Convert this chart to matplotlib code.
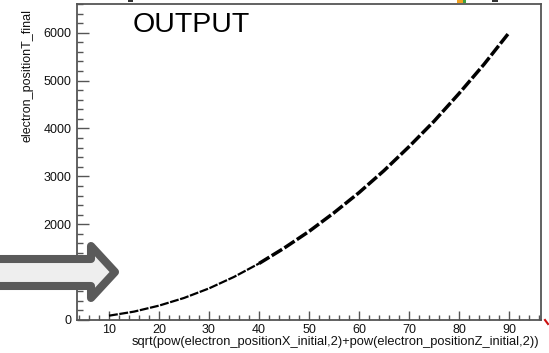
import matplotlib
matplotlib.use("Agg")
import matplotlib.pyplot as plt
from matplotlib.ticker import MultipleLocator
from matplotlib.patches import Polygon, Rectangle
from matplotlib.lines import Line2D

# readings along the curve
r_xz = [10, 15, 20, 25, 30, 35, 40, 45, 50, 55, 60, 65, 70, 75, 80, 85, 90]
t_final = [90, 175, 300, 460, 660, 900, 1180, 1500, 1850, 2240, 2660,
           3120, 3620, 4150, 4730, 5340, 6000]

x_title = "sqrt(pow(electron_positionX_initial,2)+pow(electron_positionZ_initial,2))"
y_title = "electron_positionT_final"

W, H = 549, 353
plt.rcParams['font.family'] = ['Liberation Sans', 'DejaVu Sans']

fig = plt.figure(figsize=(W / 100, H / 100), dpi=100)
ax = fig.add_axes([77 / W, 1 - 320 / H, (541 - 77) / W, (320 - 4) / H])

# points pile up where the curve is steep, so the upper part looks heavier
ax.plot(r_xz[:7], t_final[:7], color='black', lw=1.6, dashes=(4, 0.7),
        solid_capstyle='butt')
ax.plot(r_xz[6:], t_final[6:], color='black', lw=2.5, dashes=(3.5, 0.8),
        solid_capstyle='butt')

ax.set_xlim(3.6, 96.4)
ax.set_ylim(0, 6600)
ax.xaxis.set_major_locator(MultipleLocator(10))
ax.xaxis.set_minor_locator(MultipleLocator(2))
ax.yaxis.set_major_locator(MultipleLocator(1000))
ax.yaxis.set_minor_locator(MultipleLocator(200))

frame = '#555555'
for s in ax.spines.values():
    s.set_color(frame)
    s.set_linewidth(1.3)
ax.tick_params(which='both', direction='in', color=frame, width=1.0,
               top=False, right=False, labelsize=9, labelcolor='#111111')
ax.tick_params(axis='y', which='major', length=8.6, pad=4)
ax.tick_params(axis='y', which='minor', length=4.3)
ax.tick_params(axis='x', which='major', length=6.5, pad=3)
ax.tick_params(axis='x', which='minor', length=3.6)

fig.text(539 / W, 1 - 342 / H, x_title, ha='right', va='center', fontsize=9.3,
         color='#111111')
fig.text(28 / W, 1 - 9 / H, y_title, ha='center', va='top', rotation=90,
         fontsize=9, color='#111111')

fig.text(133 / W, 1 - 32 / H, "OUTPUT", ha='left', va='baseline',
         fontsize=20.5, color='black')


def px(x, y):
    return (x / W, 1 - y / H)


# block arrow pointing at the y axis
arrow_pts = [px(-12, 259), px(91, 259), px(91, 246), px(115, 272),
             px(91, 298), px(91, 286), px(-12, 286)]
fig.patches.append(Polygon(arrow_pts, closed=True, transform=fig.transFigure,
                           facecolor='#eeeeee', edgecolor='#5a5a5a',
                           linewidth=5.8, joinstyle='round', zorder=10))

# bits of icons along the top edge and a red mark at the corner
fig.patches.append(Rectangle(px(457, 3), 6 / W, 3 / H, transform=fig.transFigure,
                             facecolor='#f0a020', edgecolor='none', zorder=10))
fig.patches.append(Rectangle(px(463, 3), 3 / W, 3 / H, transform=fig.transFigure,
                             facecolor='#40a040', edgecolor='none', zorder=10))
fig.patches.append(Rectangle(px(492, 2), 6 / W, 2 / H, transform=fig.transFigure,
                             facecolor='#333333', edgecolor='none', zorder=10))
fig.patches.append(Rectangle(px(128, 2), 5 / W, 2 / H, transform=fig.transFigure,
                             facecolor='#333333', edgecolor='none', zorder=10))
fig.lines.append(Line2D([545 / W, 548 / W], [1 - 320 / H, 1 - 324 / H],
                        transform=fig.transFigure, color='#cc1010', lw=1.5))

fig.savefig("out.png", dpi=100)
